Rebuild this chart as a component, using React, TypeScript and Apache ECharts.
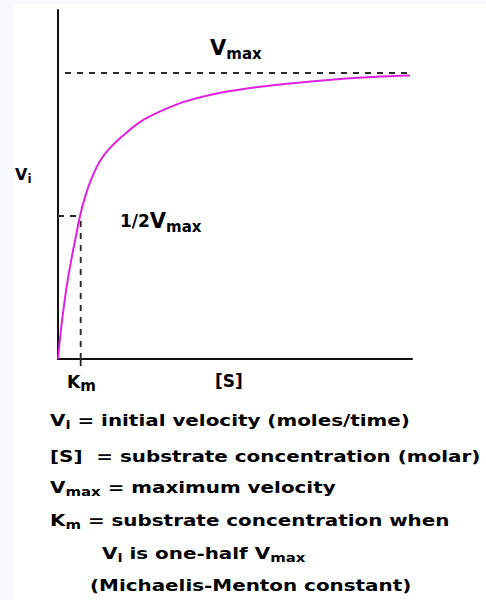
import React, { useEffect, useRef } from 'react';
import * as echarts from 'echarts';

// Michaelis-Menten saturation curve: substrate concentration [S] (in units of Km)
// against initial velocity Vi (in units of Vmax).
const substrate = [0, 0.088, 0.176, 0.309, 0.441, 0.617, 0.793, 0.97, 1.19, 1.454, 1.851, 2.292, 3.041, 3.746, 4.628, 5.509, 6.699, 8.462, 10.225, 12.428, 13.883, 15.513];
const velocity = [0, 0.07, 0.133, 0.213, 0.283, 0.36, 0.43, 0.5, 0.566, 0.626, 0.692, 0.738, 0.793, 0.835, 0.87, 0.898, 0.923, 0.947, 0.963, 0.979, 0.986, 0.991];

const VMAX = 1;
const KM = 1;
const HALF_VMAX = VMAX / 2;
const X_MAX = 15.6;
const Y_MAX = 1.22;
const vmaxGuideRange = [0.31, 15.42];

const legendLines = [
  '{b|V}{s|i}{b| = initial velocity (moles/time)}',
  '{b|[S]  = substrate concentration (molar)}',
  '{b|V}{s|max}{b| = maximum velocity}',
  '{b|K}{k|m}{b| = substrate concentration when}',
  '{b|V}{s|i}{b| is one-half V}{s|max}',
  '{b|(Michaelis-Menton constant)}',
];

const FONT = "'DejaVu Sans', 'Noto Sans', sans-serif";

// Rich-text styles for a main glyph of size F with a subscript of size f,
// the subscript baseline sitting d px below the main baseline.
function subRich(F: number, f: number, d: number) {
  const L = F + 6;
  const h = L + 0.66 * (f - F) - 2 * d;
  return {
    main: { fontFamily: FONT, fontWeight: 'bold', fontSize: F, lineHeight: L, fill: '#000' },
    sub: { fontFamily: FONT, fontWeight: 'bold', fontSize: f, lineHeight: h, verticalAlign: 'bottom', fill: '#000' },
  };
}

function label(x: number, y: number, text: string, rich: any, scaleX = 1) {
  return {
    type: 'text',
    x,
    y,
    scaleX,
    silent: true,
    style: {
      text,
      rich,
      align: 'left',
      verticalAlign: 'middle',
      fill: '#000',
      fontFamily: FONT,
      fontWeight: 'bold',
      fontSize: 16,
    },
  };
}

function buildOption() {
  const curve = substrate.map((s, i) => [s, velocity[i]]);
  const dashed = { color: '#2a2a2a', width: 1.9, type: [6, 6] as any };

  const legendRichI = subRich(16, 12, 1);
  const legendRichK = subRich(16, 12, 2);
  const legendRich = { b: legendRichI.main, s: legendRichI.sub, k: legendRichK.sub };
  const legendY = [420, 456, 487, 520, 553, 585];
  const legendX = [50, 50, 50, 50, 102, 90];

  const graphics: any[] = [];
  legendLines.forEach((t, i) => {
    graphics.push(label(legendX[i], legendY[i], t, legendRich, 1.245));
  });

  const big = subRich(21, 15, 3);
  graphics.push(label(210, 48, '{v|V}{s|max}', { v: big.main, s: big.sub }));

  const half = subRich(21, 15, 1);
  graphics.push(
    label(120, 221, '{n|1/2}{v|V}{s|max}', {
      n: { fontFamily: FONT, fontWeight: 'bold', fontSize: 17, lineHeight: 27, fill: '#000' },
      v: { ...half.main, lineHeight: 27 },
      s: half.sub,
    }),
  );

  const vi = subRich(16, 12, 1);
  graphics.push(label(15, 174, '{v|V}{s|i}', { v: vi.main, s: vi.sub }));

  const km = subRich(17, 15, 6);
  graphics.push(label(67, 382, '{k|K}{m|m}', { k: km.main, m: km.sub }));

  graphics.push(
    label(215, 381, '{b|[S]}', {
      b: { fontFamily: FONT, fontWeight: 'bold', fontSize: 17, lineHeight: 23, fill: '#000' },
    }),
  );

  const axisCommon = {
    type: 'value',
    axisLine: { show: true, onZero: false, lineStyle: { color: '#111', width: 2 } },
    axisTick: { show: false },
    axisLabel: { show: false },
    splitLine: { show: false },
  };

  return {
    animation: false,
    grid: { left: 58, top: 10, width: 354, height: 349 },
    xAxis: { ...axisCommon, min: 0, max: X_MAX },
    yAxis: { ...axisCommon, min: 0, max: Y_MAX },
    series: [
      {
        type: 'line',
        data: [[vmaxGuideRange[0], VMAX], [vmaxGuideRange[1], VMAX]],
        symbol: 'none',
        lineStyle: dashed,
        silent: true,
      },
      {
        type: 'line',
        data: [[0, HALF_VMAX], [KM, HALF_VMAX]],
        symbol: 'none',
        lineStyle: dashed,
        silent: true,
      },
      {
        type: 'line',
        data: [[KM, 0], [KM, HALF_VMAX]],
        symbol: 'none',
        lineStyle: dashed,
        silent: true,
      },
      {
        type: 'line',
        data: [[KM, -0.025], [KM, 0]],
        symbol: 'none',
        clip: false,
        lineStyle: { color: '#222', width: 1.8 },
        silent: true,
      },
      {
        type: 'line',
        data: curve,
        smooth: 0.4,
        showSymbol: false,
        symbol: 'none',
        lineStyle: { color: '#e020e0', width: 2 },
        z: 5,
        silent: true,
      },
    ],
    graphic: graphics,
  };
}

export default function App() {
  const ref = useRef<HTMLDivElement>(null);
  useEffect(() => {
    const chart = echarts.init(ref.current as HTMLDivElement, null, { renderer: 'svg' });
    chart.setOption(buildOption() as any);
    return () => chart.dispose();
  }, []);
  return (
    <div style={{ position: 'absolute', left: 0, top: 0, width: 486, height: 600, background: '#f6f9fd', overflow: 'hidden' }}>
      <div style={{ position: 'absolute', left: 14, top: 4, right: 0, bottom: 0, background: '#ffffff' }} />
      <div ref={ref} style={{ position: 'absolute', left: 0, top: 0, width: 486, height: 600 }} />
    </div>
  );
}
